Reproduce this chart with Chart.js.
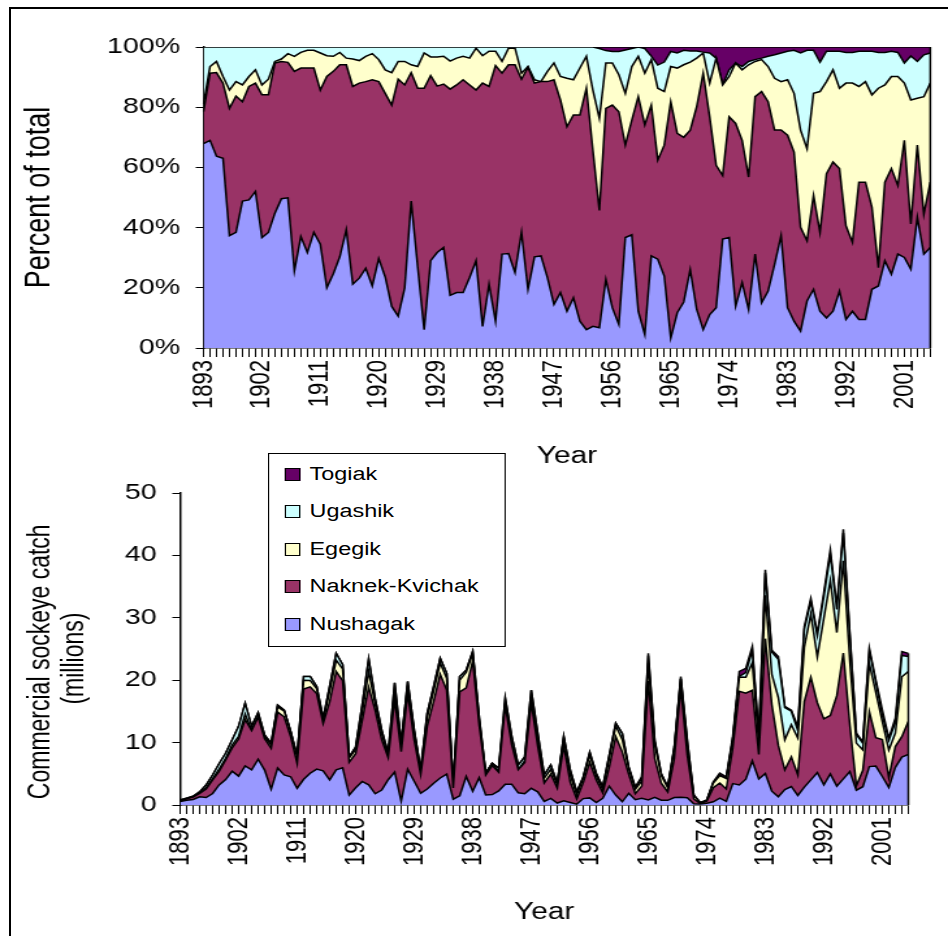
<!DOCTYPE html>
<html>
<head>
<meta charset="utf-8">
<script src="https://cdn.jsdelivr.net/npm/chart.js@4.4.1/dist/chart.umd.min.js"></script>
<style>
  html, body { margin: 0; padding: 0; background: #fff; }
  body { width: 948px; height: 936px; position: relative; overflow: hidden; font-family: "Liberation Sans", Arial, sans-serif; }
  #frame { position: absolute; left: 9px; top: 7px; width: 980px; height: 980px; border-left: 2px solid #000; border-top: 2px solid #000; }
  /* the source picture is an Excel chart stretched sideways, so draw narrow and widen */
  #stage { position: absolute; left: 0; top: 0; width: 729px; height: 936px; transform: scaleX(1.3004); transform-origin: 0 0; }
  #top-box { position: absolute; left: 0; top: 0; width: 729px; height: 475px; }
  #bottom-box { position: absolute; left: 0; top: 475px; width: 729px; height: 461px; }
  #legend { position: absolute; left: 206px; top: 453px; width: 181px; height: 192px; border: 1.3px solid #000; background: #fff; }
  .row { position: absolute; left: 12px; height: 22px; display: flex; align-items: center; font-size: 18px; color: #000; }
  .sw { width: 10px; height: 11px; border: 1px solid #000; margin-right: 7px; }
</style>
</head>
<body>
<div id="frame"></div>
<div id="stage">
  <div id="top-box"><canvas id="pct"></canvas></div>
  <div id="bottom-box"><canvas id="catch"></canvas></div>
  <div id="legend"></div>
</div>
<script>
const years = [];
for (let y = 1893; y <= 2005; y++) years.push(String(y));

const riverNames = ["Nushagak", "Naknek-Kvichak", "Egegik", "Ugashik", "Togiak"];
const riverColors = ["#9999FF", "#993366", "#FFFFCC", "#CCFFFF", "#660066"];

// upper panel, cumulative % lines (top of each band), 1893-2005
const nushagakTop = [
  67.9, 69, 63.7, 63, 37.3, 38.4, 48.8, 49.2, 52, 36.7,
  38.4, 44.8, 49.6, 49.9, 25.6, 37, 31.7, 38.4, 34.5, 20,
  24.7, 30.3, 39.3, 21.2, 23.2, 26.5, 20.6, 29.7, 23.6, 13.8,
  10.6, 20, 48.8, 27, 6.1, 29, 31.7, 33.4, 17.5, 18.4,
  18.4, 23.4, 29, 7.2, 21.2, 8.9, 31.2, 31.4, 25.1, 38.4,
  19.5, 30.3, 30.6, 23.4, 14.5, 18.4, 12.2, 16.7, 8.9, 6.1,
  7.2, 6.7, 22.8, 13.4, 7.8, 36.7, 37.6, 12.2, 4.5, 30.6,
  29.5, 23.9, 3.3, 11.7, 15.3, 26, 12.8, 6.1, 11.1, 13.4,
  36.2, 36.7, 13.9, 21.7, 12.8, 31.2, 15, 18.9, 27.8, 37.3,
  13.4, 8.9, 5.6, 15.6, 19.5, 12.2, 10, 12.2, 18.9, 9.5,
  12.2, 9.5, 9.5, 19.5, 20.6, 29, 24.5, 31.2, 30.1, 26.2,
  43.4, 31.2, 33.4
];
const naknekTop = [
  78.5, 91.3, 91.5, 88, 79.6, 83.7, 81.8, 86.9, 88, 84.1,
  84.1, 94.7, 95.2, 94.9, 91.9, 93, 93, 93, 85.7, 90.2,
  91.9, 94.1, 94.1, 86.9, 88, 88.5, 89.1, 88.5, 84.6, 80.7,
  89.3, 87.4, 91.5, 86.3, 86.3, 90.5, 87, 87.7, 86, 87.4,
  89.1, 87.4, 85.7, 88, 86.9, 93.8, 91.3, 94.1, 94.1, 89.3,
  93.3, 88, 88.5, 88.5, 89.1, 82.4, 73.5, 77.4, 77.4, 86.3,
  65.7, 45.7, 79.6, 80.7, 78.5, 67.4, 75.7, 83.5, 74.1, 80.7,
  62.4, 67.4, 81.8, 71.3, 70, 72.4, 80.2, 91.3, 76.8, 60.7,
  57.3, 76.8, 74.6, 69, 56.8, 83.5, 85.2, 81.8, 72.4, 72.4,
  70.7, 65.1, 40.1, 35.6, 50.7, 38.4, 57.9, 61.8, 59.6, 40.6,
  35.1, 55.1, 55.1, 46.8, 26.7, 55.1, 59.6, 54, 69, 41.2,
  67.4, 44.5, 55.1
];
const egegikTop = [
  81, 93.5, 95.2, 90.2, 85.7, 88.5, 87.4, 90.2, 92.4, 87.4,
  89.3, 95.2, 96, 97.8, 96.9, 98.2, 98.9, 98.9, 98, 97.1,
  96.9, 98.2, 96.3, 96, 95.5, 96.9, 97.8, 95.8, 92.4, 91.5,
  95.2, 95.2, 94.1, 93.5, 98, 96.7, 96.7, 96.9, 95.3, 96.3,
  96.9, 96.3, 99.6, 97.1, 98.6, 98.6, 95.2, 99.6, 99.6, 91.3,
  93.5, 89.1, 88.5, 91.9, 94.7, 90.2, 89.6, 89.1, 93, 96.9,
  85.7, 76.3, 94.7, 94.7, 90.8, 84.6, 93.5, 96.9, 91.3, 95.8,
  86.3, 85.2, 93.5, 93, 94.1, 95, 96.3, 98, 88, 96.3,
  87.4, 90.2, 94.7, 92.4, 94.1, 95.2, 95.8, 93.5, 89.6, 88.5,
  89.1, 84.6, 72.4, 66.2, 84.6, 85.2, 88.5, 92.4, 86.3, 88,
  88, 86.9, 88.5, 84.1, 86.3, 87.4, 90.2, 90.2, 88, 82.4,
  83, 83.5, 88
];
// Togiak share (%) - the thin dark band along the top
const togiakPct = [
  0, 0, 0, 0, 0, 0, 0, 0, 0, 0,
  0, 0, 0, 0, 0, 0, 0, 0, 0, 0,
  0, 0, 0, 0, 0, 0, 0, 0, 0, 0,
  0, 0, 0, 0, 0, 0, 0, 0, 0, 0,
  0, 0, 0, 0, 0, 0, 0, 0, 0, 0,
  0, 0, 0, 0, 0, 0, 0, 0, 0, 0,
  0, 0.5, 1.2, 1.5, 1.5, 1, 0.5, 0, 0.5, 3,
  6, 5, 1.5, 2, 1.1, 1.3, 1.3, 1.7, 2, 3.7,
  12.5, 7.6, 5.3, 6.5, 4.8, 4.2, 3.7, 3.1, 2.6, 2,
  1.4, 1.1, 2, 1.1, 1.1, 5, 1.4, 1.4, 1.4, 1.8,
  1.8, 1.4, 1.4, 1.4, 1.8, 1.8, 1.4, 1.8, 5.3, 3,
  4.8, 2.6, 2
];
// lower panel, total commercial catch (millions)
const totalCatch = [
  0.8, 1.1, 1.4, 2.1, 3.2, 4.8, 6.6, 8.3, 10.4, 12.6,
  16.3, 12.6, 14.8, 11.2, 9.9, 16.0, 15.2, 11.8, 7.8, 20.6,
  20.6, 19, 13.9, 19, 24.3, 22.5, 7.7, 9.3, 16, 23.4,
  17, 12, 8.3, 19.6, 9.9, 19.8, 12, 5.6, 14.7, 19,
  23.5, 21.1, 3.2, 20.6, 21.6, 24.6, 14, 5.1, 6.7, 5.9,
  17.1, 11, 6.4, 7.7, 18.4, 11.5, 4.8, 6.4, 3.5, 11,
  5.6, 2.1, 4.5, 8.5, 5.1, 2.9, 8, 13.1, 11.5, 6.1,
  2.9, 4.5, 24.3, 10.4, 5, 2.9, 9.3, 20.6, 10.4, 1.6,
  0.4, 0.8, 3.7, 5.1, 4.5, 11, 21.4, 21.9, 25.4, 11.2,
  37.7, 24.8, 23.8, 15.8, 15.2, 12.6, 28.6, 33.1, 27.5, 34,
  40.9, 31.8, 44.2, 27.5, 11.5, 10.1, 25.1, 20, 15.2, 10.7,
  13.9, 24.6, 24.3
];

// band widths from the cumulative lines
const rawShares = [
  nushagakTop,
  naknekTop.map((v, i) => Math.max(0, v - nushagakTop[i])),
  egegikTop.map((v, i) => Math.max(0, v - naknekTop[i])),
  egegikTop.map((v, i) => Math.max(0, 100 - v - togiakPct[i])),
  togiakPct
];
const shareSum = years.map((_, i) => rawShares.reduce((s, arr) => s + arr[i], 0));
const pctSeries = rawShares.map(arr => arr.map((v, i) => v * 100 / shareSum[i]));
const catchSeries = rawShares.map(arr => arr.map((v, i) => totalCatch[i] * v / shareSum[i]));

Chart.defaults.color = "#000";
Chart.defaults.font.family = "'Liberation Sans', Arial, sans-serif";
const tickFont = { size: 22 };

function areaSets(series) {
  return series.map((data, k) => ({
    label: riverNames[k],
    data,
    fill: k === 0 ? "origin" : "-1",
    backgroundColor: riverColors[k],
    borderColor: "#000",
    borderWidth: 1.5,
    pointRadius: 0,
    tension: 0
  }));
}

// Excel outlines the right-hand end of the areas too
const rightEdge = {
  id: "rightEdge",
  afterDatasetsDraw(chart) {
    const { ctx, scales: { x, y } } = chart;
    const last = years.length - 1;
    const top = chart.data.datasets.reduce((s, d) => s + d.data[last], 0);
    const px = x.getPixelForValue(last);
    ctx.save();
    ctx.strokeStyle = "#000";
    ctx.lineWidth = 1.5;
    ctx.beginPath();
    ctx.moveTo(px, y.getPixelForValue(top));
    ctx.lineTo(px, y.getPixelForValue(0));
    ctx.stroke();
    ctx.restore();
  }
};

function xAxis(height, titlePad) {
  return {
    type: "category",
    offset: false,
    grid: { drawOnChartArea: false, tickLength: 9, color: "#000" },
    border: { color: "#000", width: 1.5 },
    ticks: {
      autoSkip: false, maxRotation: 90, minRotation: 90, padding: 3, font: tickFont,
      callback: (v, i) => (i % 9 === 0 ? years[i] : "")
    },
    title: { display: true, text: "Year", font: { size: 23, lineHeight: 1 }, padding: { top: 0, bottom: titlePad } },
    afterFit: s => { s.height = height; s.paddingLeft = 0; s.paddingRight = 0; }
  };
}

function yAxis(max, step, fmt, title, titleFont, width, titlePad) {
  return {
    stacked: true,
    min: 0,
    max,
    grid: { drawOnChartArea: false, tickLength: 6, color: "#000" },
    border: { color: "#000", width: 1.5 },
    ticks: { stepSize: step, padding: 12, font: tickFont, callback: fmt },
    title: { display: true, text: title, font: titleFont, padding: { top: titlePad, bottom: 0 } },
    afterFit: s => { s.width = width; s.paddingTop = 0; s.paddingBottom = 0; }
  };
}

new Chart(document.getElementById("pct"), {
  type: "line",
  data: { labels: years, datasets: areaSets(pctSeries) },
  options: {
    responsive: true,
    maintainAspectRatio: false,
    animation: false,
    events: [],
    layout: { padding: { left: 0, right: 13.6, top: 47, bottom: 0 } },
    plugins: { legend: { display: false }, tooltip: { enabled: false } },
    scales: {
      x: xAxis(127, 7),
      y: yAxis(100, 20, v => v + "%", "Percent of total", { size: 27, lineHeight: 1 }, 156.5, 17.3)
    }
  },
  plugins: [rightEdge]
});

// trailing spaces nudge the centred title lines down a little, as in the original
new Chart(document.getElementById("catch"), {
  type: "line",
  data: { labels: years, datasets: areaSets(catchSeries) },
  options: {
    responsive: true,
    maintainAspectRatio: false,
    animation: false,
    events: [],
    layout: { padding: { left: 0, right: 30.5, top: 18, bottom: 0 } },
    plugins: { legend: { display: false }, tooltip: { enabled: false } },
    scales: {
      x: xAxis(131, 12),
      y: yAxis(50, 10, v => v, ["Commercial sockeye catch    ", "(millions)   "], { size: 23, lineHeight: 1.12 }, 138.5, 18.6)
    }
  },
  plugins: [rightEdge]
});

// legend, top entry first like the original
const legend = document.getElementById("legend");
riverNames.slice().reverse().forEach((name, k) => {
  const color = riverColors[riverNames.length - 1 - k];
  const row = document.createElement("div");
  row.className = "row";
  row.style.top = (9 + k * 37.5) + "px";
  row.innerHTML = `<span class="sw" style="background:${color}"></span><span>${name}</span>`;
  legend.appendChild(row);
});
</script>
</body>
</html>
